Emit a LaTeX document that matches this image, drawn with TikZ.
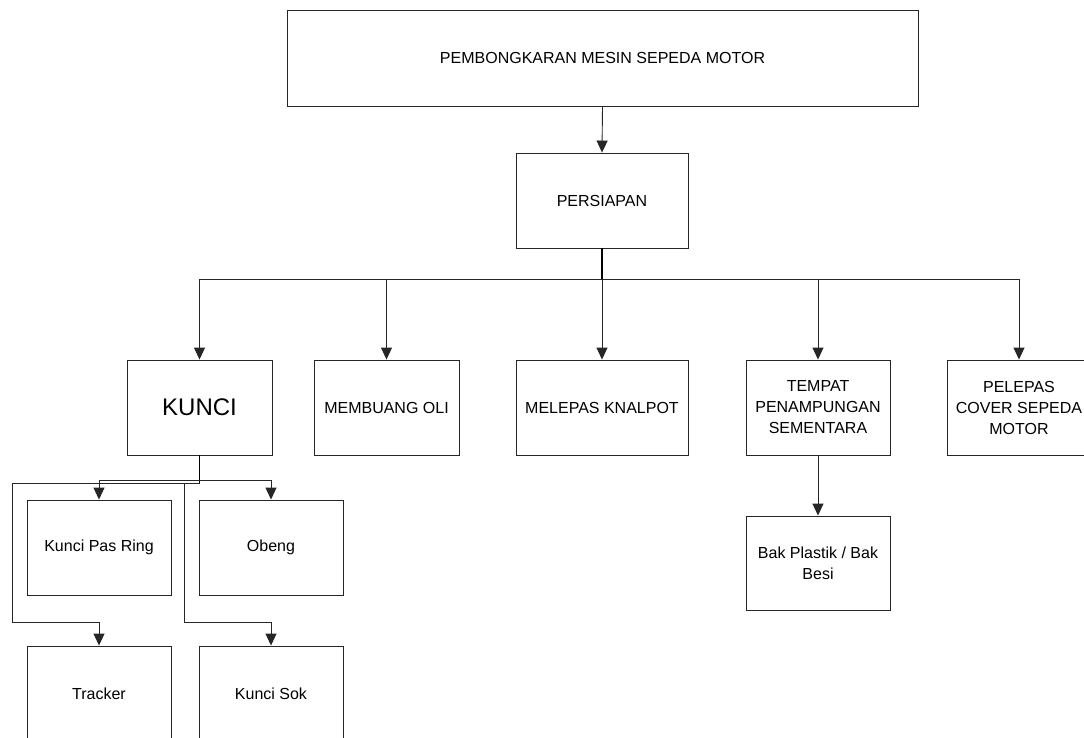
\documentclass[tikz,border=0pt]{standalone}
\usepackage{fontspec}
\setmainfont{Liberation Sans}
\usetikzlibrary{arrows.meta}
\begin{document}
\begin{tikzpicture}[x=1pt,y=-1pt,
  box/.style={draw=black!85, line width=0.9pt, rectangle, inner sep=0pt, align=center,
    font=\fontsize{16}{21}\selectfont},
  conn/.style={draw=black!85, line width=0.9pt},
  thickconn/.style={draw=black, line width=1.6pt},
  arr/.style={conn, -{Triangle[length=12pt,width=11pt]}}
]
\useasboundingbox (0,0) rectangle (1084,738);
\clip (0,0) rectangle (1084,738);
\fill[white] (0,0) rectangle (1084,738);

\node[box, minimum width=631pt, minimum height=96pt] (top) at (602.5,58) {PEMBONGKARAN MESIN SEPEDA MOTOR};
\node[box, minimum width=172pt, minimum height=95pt] (pers) at (602,200.5) {PERSIAPAN};

\node[box, minimum width=145pt, minimum height=95pt, font=\fontsize{24}{28}\selectfont] (kunci) at (199.5,407.5) {KUNCI};
\node[box, minimum width=145pt, minimum height=95pt] (oli) at (386.5,407.5) {MEMBUANG OLI};
\node[box, minimum width=172pt, minimum height=95pt] (knal) at (602,407.5) {MELEPAS KNALPOT};
\node[box, minimum width=144pt, minimum height=95pt] (tempat) at (818,407.5) {TEMPAT\\PENAMPUNGAN\\SEMENTARA};
\node[box, minimum width=144pt, minimum height=95pt] (pelepas) at (1019,407.5) {PELEPAS\\COVER SEPEDA\\MOTOR};

\node[box, minimum width=144pt, minimum height=94pt] (bak) at (818,563) {Bak Plastik / Bak\\Besi};

\node[box, minimum width=144pt, minimum height=95pt] (ring) at (99,547.5) {Kunci Pas Ring};
\node[box, minimum width=144pt, minimum height=95pt] (obeng) at (271,547.5) {Obeng};
\node[box, minimum width=144pt, minimum height=95pt] (tracker) at (99,693.5) {Tracker};
\node[box, minimum width=144pt, minimum height=95pt] (sok) at (271,693.5) {Kunci Sok};

% top to persiapan
\draw[arr] (top.south) -- (pers.north);

% persiapan to bar
\coordinate (bar) at (602,279);
\draw[thickconn] (pers.south) -- (bar);
\draw[conn] (kunci.north |- bar) -- (pelepas.north |- bar);
\draw[arr] (kunci.north |- bar) -- (kunci.north);
\draw[arr] (oli.north |- bar) -- (oli.north);
\draw[arr] (bar) -- (knal.north);
\draw[arr] (tempat.north |- bar) -- (tempat.north);
\draw[arr] (pelepas.north |- bar) -- (pelepas.north);

% tempat to bak
\draw[arr] (tempat.south) -- (bak.north);

% kunci subtree
\coordinate (kj) at (199.5,483);
\coordinate (h1) at (199.5,480);
\coordinate (l1) at (12,483);
\coordinate (l2) at (12,622);
\coordinate (m1) at (184,483);
\coordinate (m2) at (184,622);
\draw[thickconn] (kunci.south) -- (kj);
\draw[arr] (h1) -| (ring.north);
\draw[arr] (h1) -| (obeng.north);
\draw[arr] (kj) -- (l1) -- (l2) -| (tracker.north);
\draw[arr] (m1) -- (m2) -| (sok.north);
\end{tikzpicture}
\end{document}
